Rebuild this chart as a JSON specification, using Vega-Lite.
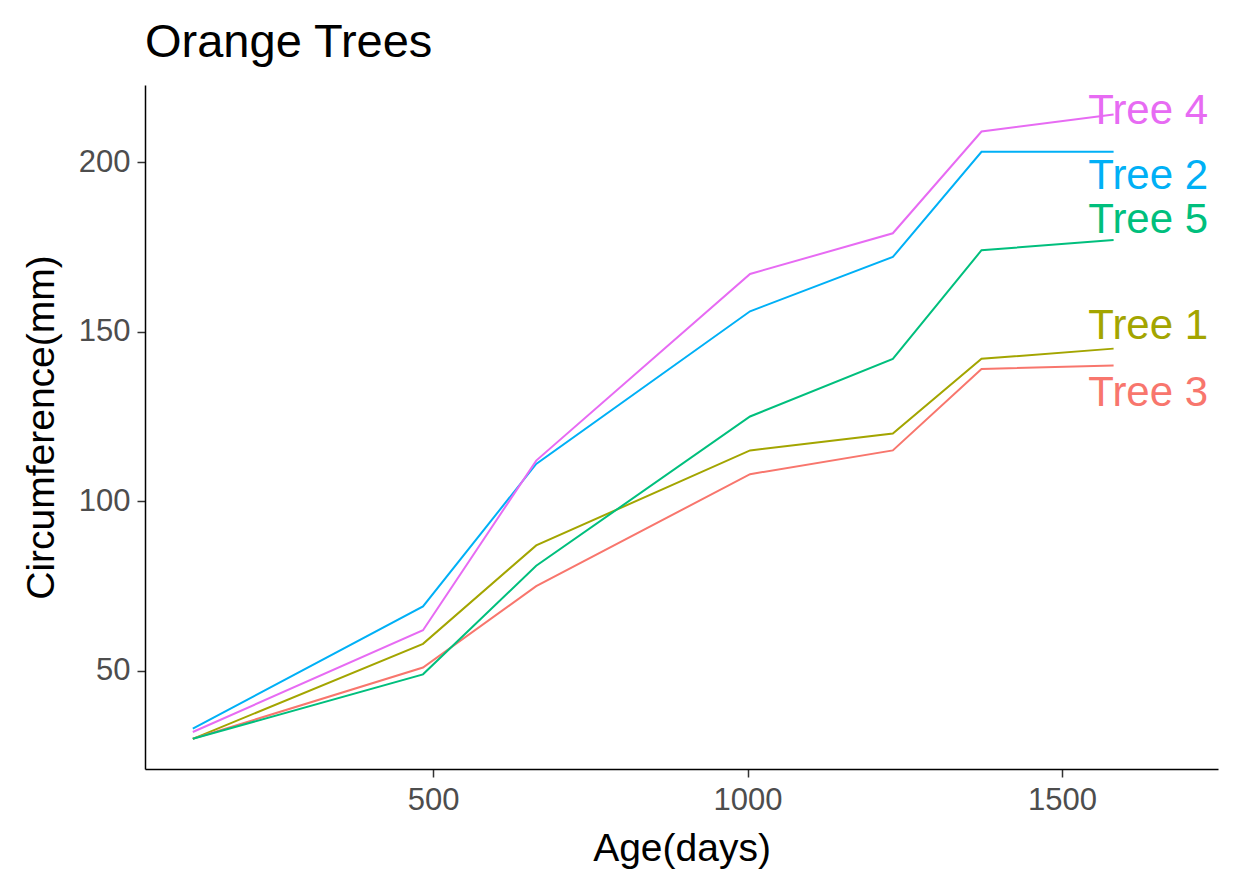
{
  "$schema": "https://vega.github.io/schema/vega-lite/v6.json",
  "width": 1073,
  "height": 684,
  "autosize": {"type": "none"},
  "padding": {"left": 145, "top": 85, "right": 22, "bottom": 117},
  "background": "white",
  "config": {
    "view": {"stroke": null},
    "font": "Liberation Sans"
  },
  "title": {
    "text": "Orange Trees",
    "anchor": "start",
    "frame": "group",
    "fontSize": 47,
    "fontWeight": "normal",
    "font": "Liberation Sans",
    "color": "black",
    "baseline": "alphabetic",
    "offset": 28,
    "dy": 47
  },
  "datasets": {
    "orange": [
      {"tree": "Tree 1", "age": 118, "circ": 30},
      {"tree": "Tree 1", "age": 484, "circ": 58},
      {"tree": "Tree 1", "age": 664, "circ": 87},
      {"tree": "Tree 1", "age": 1004, "circ": 115},
      {"tree": "Tree 1", "age": 1231, "circ": 120},
      {"tree": "Tree 1", "age": 1372, "circ": 142},
      {"tree": "Tree 1", "age": 1582, "circ": 145},
      {"tree": "Tree 2", "age": 118, "circ": 33},
      {"tree": "Tree 2", "age": 484, "circ": 69},
      {"tree": "Tree 2", "age": 664, "circ": 111},
      {"tree": "Tree 2", "age": 1004, "circ": 156},
      {"tree": "Tree 2", "age": 1231, "circ": 172},
      {"tree": "Tree 2", "age": 1372, "circ": 203},
      {"tree": "Tree 2", "age": 1582, "circ": 203},
      {"tree": "Tree 3", "age": 118, "circ": 30},
      {"tree": "Tree 3", "age": 484, "circ": 51},
      {"tree": "Tree 3", "age": 664, "circ": 75},
      {"tree": "Tree 3", "age": 1004, "circ": 108},
      {"tree": "Tree 3", "age": 1231, "circ": 115},
      {"tree": "Tree 3", "age": 1372, "circ": 139},
      {"tree": "Tree 3", "age": 1582, "circ": 140},
      {"tree": "Tree 4", "age": 118, "circ": 32},
      {"tree": "Tree 4", "age": 484, "circ": 62},
      {"tree": "Tree 4", "age": 664, "circ": 112},
      {"tree": "Tree 4", "age": 1004, "circ": 167},
      {"tree": "Tree 4", "age": 1231, "circ": 179},
      {"tree": "Tree 4", "age": 1372, "circ": 209},
      {"tree": "Tree 4", "age": 1582, "circ": 214},
      {"tree": "Tree 5", "age": 118, "circ": 30},
      {"tree": "Tree 5", "age": 484, "circ": 49},
      {"tree": "Tree 5", "age": 664, "circ": 81},
      {"tree": "Tree 5", "age": 1004, "circ": 125},
      {"tree": "Tree 5", "age": 1231, "circ": 142},
      {"tree": "Tree 5", "age": 1372, "circ": 174},
      {"tree": "Tree 5", "age": 1582, "circ": 177}
    ],
    "labels": [
      {"tree": "Tree 4", "age": 1637, "circ": 215},
      {"tree": "Tree 2", "age": 1637, "circ": 195.9},
      {"tree": "Tree 5", "age": 1637, "circ": 183},
      {"tree": "Tree 1", "age": 1637, "circ": 151.6},
      {"tree": "Tree 3", "age": 1637, "circ": 131.8}
    ]
  },
  "encoding": {
    "x": {
      "field": "age",
      "type": "quantitative",
      "scale": {"domain": [42, 1748], "nice": false, "zero": false},
      "axis": {
        "title": "Age(days)",
        "values": [500, 1000, 1500],
        "format": "d",
        "grid": false,
        "domainColor": "black",
        "domainWidth": 1.5,
        "tickColor": "#333333",
        "tickWidth": 1.5,
        "tickSize": 8,
        "labelFontSize": 31,
        "labelColor": "#4D4D4D",
        "labelPadding": 8,
        "labelFont": "Liberation Sans",
        "titleFont": "Liberation Sans",
        "titleFontSize": 39,
        "titleFontWeight": "normal",
        "titleColor": "black",
        "titleBaseline": "alphabetic",
        "titleY": 91
      }
    },
    "y": {
      "field": "circ",
      "type": "quantitative",
      "scale": {"domain": [21.1, 222.7], "nice": false, "zero": false},
      "axis": {
        "title": "Circumference(mm)",
        "values": [50, 100, 150, 200],
        "format": "d",
        "grid": false,
        "domainColor": "black",
        "domainWidth": 1.5,
        "tickColor": "#333333",
        "tickWidth": 1.5,
        "tickSize": 8,
        "labelFontSize": 31,
        "labelColor": "#4D4D4D",
        "labelPadding": 7,
        "labelFont": "Liberation Sans",
        "titleFont": "Liberation Sans",
        "titleFontSize": 39,
        "titleFontWeight": "normal",
        "titleColor": "black",
        "titleAngle": -90,
        "titleBaseline": "middle",
        "titleX": -104,
        "titleY": 342
      }
    },
    "color": {
      "field": "tree",
      "type": "nominal",
      "scale": {
        "domain": ["Tree 3", "Tree 1", "Tree 5", "Tree 2", "Tree 4"],
        "range": ["#F8766D", "#A3A500", "#00BF7D", "#00B0F6", "#E76BF3"]
      },
      "legend": null
    }
  },
  "layer": [
    {
      "data": {"name": "orange"},
      "mark": {"type": "line", "strokeWidth": 2},
      "encoding": {"detail": {"field": "tree"}, "order": {"field": "age"}}
    },
    {
      "data": {"name": "labels"},
      "mark": {"type": "text", "fontSize": 42, "font": "Liberation Sans", "align": "center", "baseline": "middle"},
      "encoding": {"text": {"field": "tree"}}
    }
  ]
}
